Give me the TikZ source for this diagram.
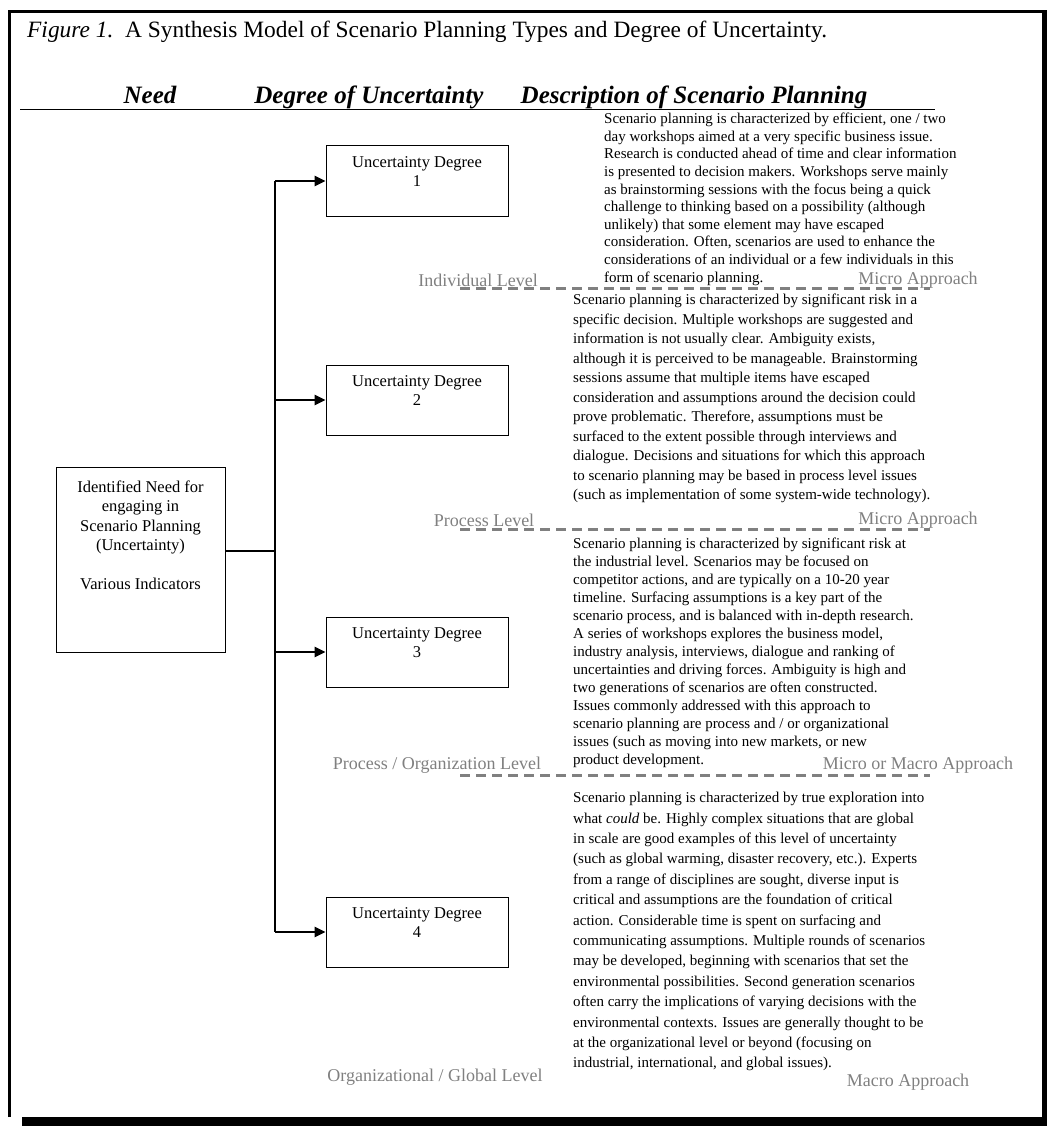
\documentclass[tikz,border=0pt]{standalone}
\usepackage{fontspec}
\setmainfont{Liberation Serif}
\usetikzlibrary{arrows.meta}

\definecolor{levelgray}{HTML}{808080}

\begin{document}
\begin{tikzpicture}[x=1pt,y=-1pt,
        box/.style={draw,line width=1pt,inner sep=7.5pt,font=\fontsize{16.5}{19.5}\selectfont},
        desc/.style={anchor=north west,align=left,inner sep=0pt,font=\fontsize{15}{17.6}\selectfont},
        level/.style={text=levelgray,inner sep=0pt,font=\fontsize{18}{21}\selectfont},
        divider/.style={levelgray,line width=3pt,dash pattern=on 10pt off 6pt},
        branch/.style={line width=2.5pt,-{Triangle[length=11pt,width=10pt]}},
        head/.style={anchor=base,inner sep=0pt,font=\fontsize{25}{30}\selectfont\bfseries\itshape}]
        \useasboundingbox (0,0) rectangle (1047,1126);

        % Frame
        \draw[line width=3pt] (9.5,1117) -- (9.5,11.5) -- (1044,11.5);
        \fill (1042,10) rectangle (1047,1126);
        \fill (22,1117) rectangle (1047,1126);

        % Title
        \node[anchor=base west,inner sep=0pt,font=\fontsize{23.4}{27}\selectfont] (title) at (27,38)
            {\textit{Figure 1.}\ \ A Synthesis Model of Scenario Planning Types and Degree of Uncertainty.};

        % Column heads
        \node[head] (hneed) at (150,104) {Need};
        \node[head] (hdeg) at (369,104) {Degree of Uncertainty};
        \node[head] (hdesc) at (694,104) {Description of Scenario Planning};
        \draw[line width=1pt] (20,110) -- (935,110);

        % Need
        \node[box] (need) at (140.5,559.5) {\parbox[c][170pt][t]{154pt}{\centering\vspace*{6pt}Identified Need for\\ engaging in\\ Scenario Planning\\ (Uncertainty)\\[19.5pt] Various Indicators}};

        % Degrees of uncertainty
        \node[box] (deg1) at (417,181) {\parbox[c][55pt][t]{167pt}{\centering\vspace*{3pt}Uncertainty Degree\\ 1}};
        \node[box] (deg2) at (417,400) {\parbox[c][55pt][t]{167pt}{\centering\vspace*{3pt}Uncertainty Degree\\ 2}};
        \node[box] (deg3) at (417,652) {\parbox[c][55pt][t]{167pt}{\centering\vspace*{3pt}Uncertainty Degree\\ 3}};
        \node[box] (deg4) at (417,932) {\parbox[c][55pt][t]{167pt}{\centering\vspace*{3pt}Uncertainty Degree\\ 4}};

        % Branches
        \coordinate (trunk) at (275,0);
        \draw[line width=1.2pt] (deg1.west -| trunk) -- (deg4.west -| trunk);
        \draw[line width=1.2pt] ([yshift=8.5pt]need.east) -- ([yshift=8.5pt]need.east -| trunk);
        \foreach \n in {1,...,4}
            \draw[branch] (deg\n.west -| trunk) -- (deg\n.west);

        % Descriptions
        \node[desc] (desc1) at (604,113) {Scenario planning is characterized by efficient, one / two\\
            day workshops aimed at a very specific business issue.\\
            Research is conducted ahead of time and clear information\\
            is presented to decision makers.  Workshops serve mainly\\
            as brainstorming sessions with the focus being a quick\\
            challenge to thinking based on a possibility (although\\
            unlikely) that some element may have escaped\\
            consideration.  Often, scenarios are used to enhance the\\
            considerations of an individual or a few individuals in this\\
            form of scenario planning.};
        \node[desc,font=\fontsize{15}{19.5}\selectfont] (desc2) at (573,294) {Scenario planning is characterized by significant risk in a\\
            specific decision.  Multiple workshops are suggested and\\
            information is not usually clear.  Ambiguity exists,\\
            although it is perceived to be manageable.  Brainstorming\\
            sessions assume that multiple items have escaped\\
            consideration and assumptions around the decision could\\
            prove problematic.  Therefore, assumptions must be\\
            surfaced to the extent possible through interviews and\\
            dialogue.  Decisions and situations for which this approach\\
            to scenario planning may be based in process level issues\\
            (such as implementation of some system-wide technology).};
        \node[desc,font=\fontsize{15}{18}\selectfont] (desc3) at (573,538) {Scenario planning is characterized by significant risk at\\
            the industrial level.  Scenarios may be focused on\\
            competitor actions, and are typically on a 10-20 year\\
            timeline.  Surfacing assumptions is a key part of the\\
            scenario process, and is balanced with in-depth research.\\
            A series of workshops explores the business model,\\
            industry analysis, interviews, dialogue and ranking of\\
            uncertainties and driving forces.  Ambiguity is high and\\
            two generations of scenarios are often constructed.\\
            Issues commonly addressed with this approach to\\
            scenario planning are process and / or organizational\\
            issues (such as moving into new markets, or new\\
            product development.};
        \node[desc,font=\fontsize{15}{20.4}\selectfont] (desc4) at (573,792) {Scenario planning is characterized by true exploration into\\
            what \textit{could} be.  Highly complex situations that are global\\
            in scale are good examples of this level of uncertainty\\
            (such as global warming, disaster recovery, etc.).  Experts\\
            from a range of disciplines are sought, diverse input is\\
            critical and assumptions are the foundation of critical\\
            action.  Considerable time is spent on surfacing and\\
            communicating assumptions.  Multiple rounds of scenarios\\
            may be developed, beginning with scenarios that set the\\
            environmental possibilities.  Second generation scenarios\\
            often carry the implications of varying decisions with the\\
            environmental contexts.  Issues are generally thought to be\\
            at the organizational level or beyond (focusing on\\
            industrial, international, and global issues).};

        % Levels and approaches
        \draw[divider] (460,288) -- (930,288);
        \draw[divider] (460,529) -- (930,529);
        \draw[divider] (460,775) -- (930,775);
        \node[level] (lev1) at (478,280) {Individual Level};
        \node[level] (lev2) at (484,520) {Process Level};
        \node[level] (lev3) at (437,765) {Process / Organization Level};
        \node[level] (lev4) at (435,1077) {Organizational / Global Level};
        \node[level] (app1) at (918,280) {Micro Approach};
        \node[level] (app2) at (918,520) {Micro Approach};
        \node[level] (app3) at (918,765) {Micro or Macro Approach};
        \node[level] (app4) at (908,1082) {Macro Approach};
\end{tikzpicture}
\end{document}
